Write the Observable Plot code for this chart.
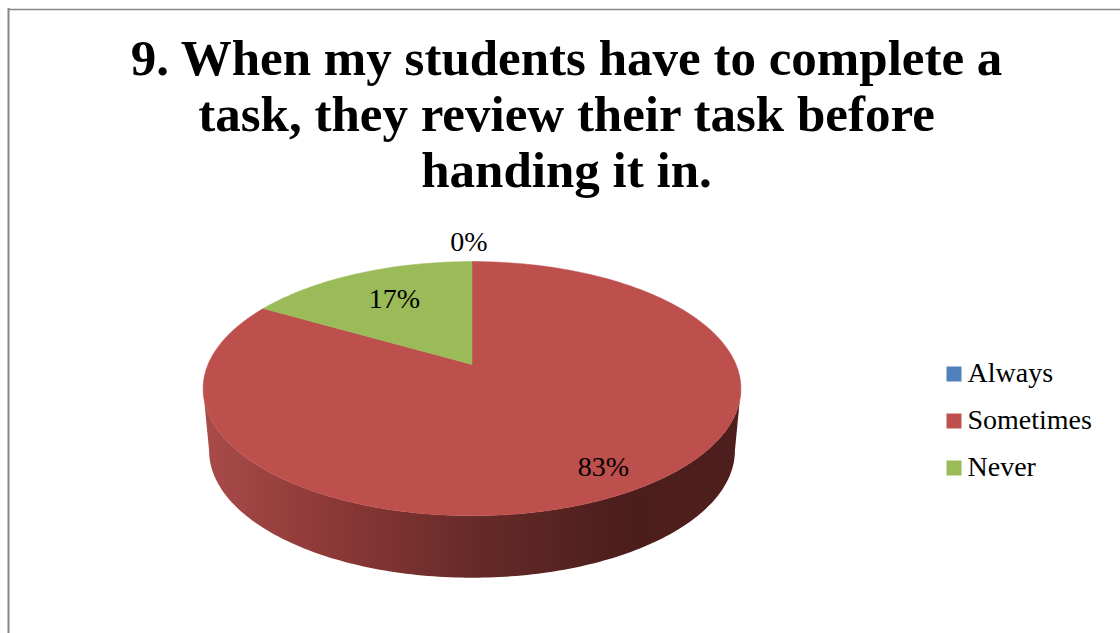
<!DOCTYPE html>
<html>
<head>
<meta charset="utf-8">
<style>html,body{margin:0;padding:0;background:#fff;overflow:hidden}svg{display:block}</style>
<script src="https://cdn.jsdelivr.net/npm/d3@7"></script>
<script src="https://cdn.jsdelivr.net/npm/@observablehq/plot@0.6"></script>
</head>
<body>
<script>
const titleLines = ["9. When my students have to complete a", "task, they review their task before", "handing it in."];
const categories = ["Always", "Sometimes", "Never"];
const shares = [0, 83.33, 16.67];
const labels = ["0%", "83%", "17%"];
const colors = ["#4f81bd", "#c0504d", "#9bbb59"];
const topColors = ["#4f81bd", "#bd4f4c", "#9bbb59"];
const labelRadii = [1.22, 0.85, 0.66];

const W = 1120, H = 633, font = "'Liberation Serif', serif";
// perspective projection of the pie's unit disc on to the page
const project = (deg, r = 1, depth = 0) => {
  const a = deg * Math.PI / 180, X = r * Math.sin(a), Z = r * Math.cos(a), w = 1 + 0.19 * Z;
  const squeeze = depth ? 263 / 269 : 1;
  return {x: 471.5 + 264 * X / w * squeeze, y: 364 - 122.5 * Z / w + depth};
};
const step = 1;
const span = (a, b, depth = 0) => d3.range(a, b, step).concat(b).map(d => project(d, 1, depth));

let acc = 0;
const slices = categories.map((c, i) => {
  const start = acc * 3.6; acc += shares[i];
  return {c, i, start, end: acc * 3.6};
});
const sectors = slices.filter(s => s.end > s.start).flatMap(s =>
  [project(0, 0), ...span(s.start, s.end), project(0, 0)].map(p => ({...p, k: s.c, fill: topColors[s.i]})));
// front wall: between the widest points of the upper rim, then back along the lower rim
const leftDeg = 259, rightDeg = 101;
const wall = [...span(rightDeg, leftDeg), ...span(rightDeg, leftDeg, 62).reverse()];

const labelData = slices.map((s, i) => ({...project((s.start + s.end) / 2, labelRadii[i]), t: labels[i]}));

const gradient = () => {
  const svgNS = "http://www.w3.org/2000/svg";
  const g = document.createElementNS(svgNS, "defs");
  const lg = document.createElementNS(svgNS, "linearGradient");
  lg.setAttribute("id", "wallShade");
  lg.setAttribute("gradientUnits", "userSpaceOnUse");
  lg.setAttribute("x1", 205); lg.setAttribute("x2", 737);
  lg.setAttribute("y1", 0); lg.setAttribute("y2", 0);
  [[0, "#a84b49"], [0.25, "#8a3836"], [0.5, "#672b29"], [0.8, "#4b1d1b"], [1, "#4f1f1d"]].forEach(([o, c]) => {
    const st = document.createElementNS(svgNS, "stop");
    st.setAttribute("offset", o); st.setAttribute("stop-color", c);
    lg.appendChild(st);
  });
  g.appendChild(lg);
  return g;
};

const chart = Plot.plot({
  width: W, height: H, margin: 0,
  style: {background: "#fff", fontFamily: font, color: "#000"},
  x: {domain: [0, W], range: [0, W], axis: null},
  y: {domain: [0, H], range: [0, H], axis: null},
  marks: [
    gradient,
    Plot.ruleX([8], {y1: 8, y2: H, stroke: "#868686", strokeWidth: 2}),
    Plot.ruleY([9], {x1: 8, x2: W, stroke: "#868686", strokeWidth: 1.5}),
    Plot.line(wall, {x: "x", y: "y", fill: "url(#wallShade)", stroke: "none"}),
    Plot.line(sectors, {x: "x", y: "y", z: "k", fill: "fill", stroke: "fill", strokeWidth: 0.5}),
    Plot.text([labelData[0]], {x: "x", y: "y", text: "t", dx: -3, dy: -1, fontSize: 28, fill: "#000"}),
    Plot.text(labelData.slice(1), {x: "x", y: "y", text: "t", dx: 1, dy: -2, fontSize: 28, fill: "#000"}),
    Plot.text([titleLines.join("\n")], {frameAnchor: "top", dx: 6, dy: 35, fontSize: 51, fontWeight: "bold", lineHeight: 56 / 51, textAnchor: "middle", lineAnchor: "top", fill: "#000"}),
    ...categories.map((c, i) => Plot.dot([c], {frameAnchor: "top-left", dx: 953.5, dy: 373.5 + i * 47, symbol: "square", r: 8.46, fill: colors[i], stroke: "none"})),
    ...categories.map((c, i) => Plot.text([c], {frameAnchor: "top-left", dx: 967, dy: 373 + i * 47, fontSize: 28, textAnchor: "start", lineAnchor: "middle", fill: "#000"}))
  ]
});
document.body.appendChild(chart);
</script>
</body>
</html>
